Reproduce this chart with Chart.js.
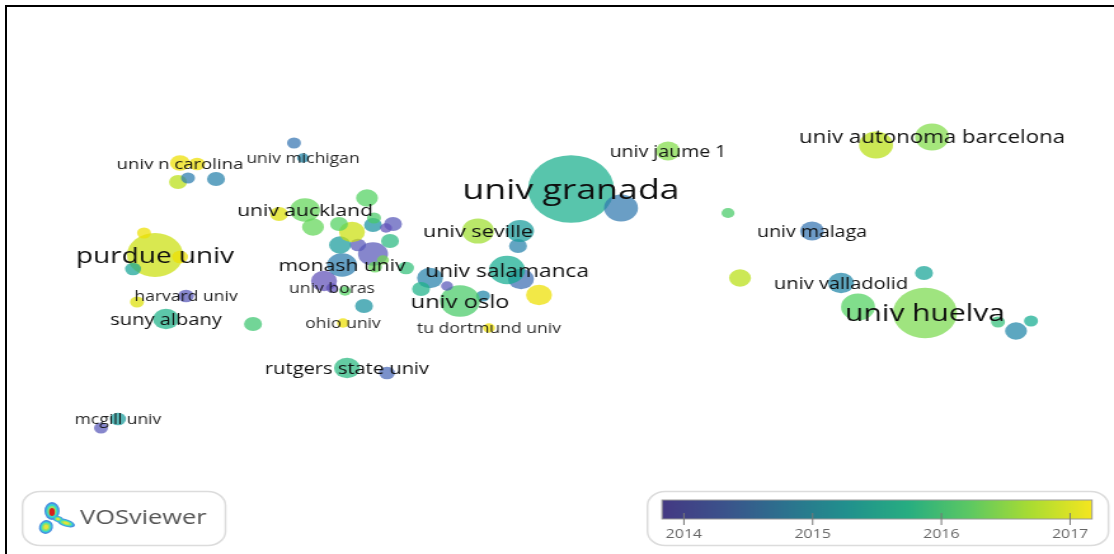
<!DOCTYPE html>
<html>
<head>
<meta charset="utf-8">
<title>VOSviewer overlay map</title>
<script src="https://cdn.jsdelivr.net/npm/chart.js"></script>
<style>
    html, body { margin: 0; padding: 0; background: #fff; }
    #wrap { position: relative; width: 1114px; height: 554px; overflow: hidden; }
    /* the picture is a map stretched sideways, so the canvas is stretched the same way */
    #map { display: block; transform-origin: 0 0; transform: scaleX(1.27024); filter: blur(0.5px); }
    #frame { position: absolute; left: 5px; top: 5px; width: 1114px; height: 560px; border-left: 2px solid #000; border-top: 2px solid #000; }
</style>
</head>
<body>
<div id="wrap">
    <canvas id="map" width="877" height="554"></canvas>
    <div id="frame"></div>
</div>
<script>
// Values
const names = [
    'univ granada', '', '', '', 'univ malaga', '', 'univ autonoma barcelona', '', 'univ valladolid', '', '', 'univ huelva', '', '',
    'univ seville', '', '', '', 'univ salamanca', '', '', 'univ oslo', '', '', '', 'tu dortmund univ', '', '', 'ohio univ',
    'rutgers state univ', '', '', 'univ boras', '', 'monash univ', '', '', '', '', '', '', 'univ auckland', '', '', '', '', '', '', '', '', '',
    'purdue univ', '', '', '', 'harvard univ', '', 'suny albany', '', 'univ n carolina', '', '', '', '', '', 'univ michigan', 'mcgill univ', '', 'univ jaume 1'
];
const mapX = [
    571, 621, 728, 740, 812, 876, 932, 924, 841, 858, 998, 925, 1016, 1031,
    478, 518, 520, 521, 507, 539, 483, 460, 447, 430, 421, 489, 406, 364, 343,
    347, 387, 345, 332, 324, 342, 373, 358, 340, 352, 339, 313, 305, 279, 367, 373, 374, 393, 386, 390, 383, 375,
    155, 144, 133, 180, 186, 137, 166, 253, 180, 197, 178, 188, 216, 294, 303, 118, 101, 668
];
const mapY = [
    189, 208, 213, 278, 231, 145, 137, 273, 283, 307, 322, 313, 331, 321,
    231, 246, 231, 279, 270, 295, 296, 301, 286, 278, 289, 328, 268, 306, 323,
    368, 373, 291, 288, 281, 265, 254, 245, 245, 232, 224, 227, 210, 214, 198, 225, 218, 224, 228, 241, 260, 267,
    255, 233, 269, 257, 296, 302, 319, 324, 163, 164, 182, 178, 179, 143, 158, 419, 428, 151
];
const weights = [
    1850, 289, 42, 121, 144, 289, 289, 81, 169, 289, 49, 1024, 121, 49,
    256, 81, 196, 169, 324, 169, 49, 400, 36, 169, 81, 36, 64, 81, 36,
    169, 64, 36, 36, 169, 225, 225, 64, 121, 169, 81, 121, 225, 81, 121, 81, 49, 81, 36, 81, 36, 49,
    784, 49, 64, 64, 64, 49, 169, 81, 100, 64, 81, 49, 81, 49, 36, 64, 49, 144
];
const years = [
    2015.45, 2014.6, 2015.9, 2016.7, 2014.5, 2016.7, 2016.3, 2015.3, 2014.9, 2016.0, 2015.7, 2016.25, 2014.9, 2015.4,
    2016.5, 2014.8, 2015.2, 2014.4, 2015.4, 2017.0, 2014.9, 2015.9, 2014.1, 2014.8, 2015.5, 2017.0, 2015.7, 2015.1, 2017.0,
    2015.6, 2014.3, 2016.0, 2014.0, 2014.0, 2014.7, 2014.1, 2014.1, 2015.2, 2016.8, 2016.0, 2016.1, 2016.1, 2016.9, 2016.0, 2015.1, 2015.9, 2014.1, 2014.0, 2015.6, 2016.2, 2016.1,
    2016.8, 2017.0, 2015.3, 2017.0, 2014.1, 2016.9, 2015.5, 2015.8, 2017.0, 2017.0, 2016.7, 2014.7, 2014.8, 2014.5, 2014.9, 2015.2, 2014.1, 2016.3
];
const tickYears = [2014, 2015, 2016, 2017];

const stretch = 1114 / 877;

// Colour bar stops, from 2013.83 to 2017.17
const yearMin = 2013.83;
const yearMax = 2017.17;
const viridis = [
    [68, 57, 131], [59, 82, 139], [44, 114, 142], [33, 144, 141],
    [39, 173, 129], [92, 200, 99], [170, 220, 50], [245, 230, 31]
];

// Bubbles look a bit more saturated than the bar
const bubbleYears = [2014, 2014.5, 2015, 2015.4, 2016, 2016.3, 2016.7, 2017];
const bubbleStops = [
    [95, 81, 185], [53, 116, 178], [26, 137, 165], [19, 172, 144],
    [81, 209, 95], [130, 220, 74], [185, 223, 19], [237, 223, 0]
];

function yearColor(year, alpha) {
    let i = 0;
    while (i < bubbleYears.length - 2 && year > bubbleYears[i + 1]) i++;
    const t = Math.min(1, Math.max(0, (year - bubbleYears[i]) / (bubbleYears[i + 1] - bubbleYears[i])));
    const c = bubbleStops[i].map((v, k) => Math.round(v + (bubbleStops[i + 1][k] - v) * t));
    return `rgba(${c[0]}, ${c[1]}, ${c[2]}, ${alpha})`;
}

const points = mapX.map((x, i) => ({ x: x, y: mapY[i], r: Math.sqrt(weights[i]) / stretch }));

// Labels sit on the centre of their bubble
const labelPlugin = {
    id: 'labels',
    afterDatasetsDraw(chart) {
        const ctx = chart.ctx;
        ctx.save();
        ctx.textAlign = 'center';
        ctx.textBaseline = 'middle';
        names.forEach((name, i) => {
            if (!name) return;
            const r = points[i].r;
            const size = Math.max(13.8, 10.5 + 0.52 * r);
            ctx.font = size.toFixed(1) + 'px "Open Sans"';
            ctx.fillStyle = 'rgba(15, 15, 15, ' + Math.min(1, 0.8 + r / 50) + ')';
            ctx.fillText(name, chart.scales.x.getPixelForValue(mapX[i]), chart.scales.y.getPixelForValue(mapY[i]) + 1.5);
        });
        ctx.restore();
    }
};

function roundedBox(ctx, x, y, w, h) {
    ctx.beginPath();
    ctx.roundRect(x, y, w, h, 14);
    ctx.fillStyle = '#fff';
    ctx.fill();
    ctx.strokeStyle = '#dcdcdc';
    ctx.lineWidth = 1.5;
    ctx.stroke();
}

function blob(ctx, x, y, rx, ry, angle, color) {
    ctx.beginPath();
    ctx.ellipse(x, y, rx, ry, angle, 0, Math.PI * 2);
    ctx.fillStyle = color;
    ctx.fill();
}

// VOSviewer logo box and colour bar
const legendPlugin = {
    id: 'legendBoxes',
    afterDraw(chart) {
        const ctx = chart.ctx;
        const px = v => chart.scales.x.getPixelForValue(v);
        ctx.save();

        roundedBox(ctx, px(22.5), 491.5, px(203), 54);
        const layers = ['#4a8fe0', '#35d6d0', '#8fe36a', '#e6e23a'];
        layers.forEach((color, k) => {
            const s = 1 - k * 0.22;
            blob(ctx, px(52), 511, 6 * s, 9 * s, 0, color);
            blob(ctx, px(46), 527, 5.5 * s, 7 * s, 0.2, color);
            blob(ctx, px(66), 523, 7.5 * s, 3.6 * s, 0.4, color);
            blob(ctx, px(58), 519, 4 * s, 3 * s, 0.4, color);
        });
        blob(ctx, px(52), 512, 2.2, 4, 0, '#d81e1e');
        ctx.fillStyle = '#555';
        ctx.font = '20px "Open Sans"';
        ctx.textAlign = 'left';
        ctx.textBaseline = 'middle';
        ctx.fillText('VOSviewer', px(80), 518);

        roundedBox(ctx, px(647.5), 491.5, px(461), 54);
        const barLeft = px(662), barRight = px(1092), barTop = 500, barBottom = 519;
        const gradient = ctx.createLinearGradient(barLeft, 0, barRight, 0);
        viridis.forEach((c, i) => gradient.addColorStop(i / (viridis.length - 1), `rgb(${c[0]}, ${c[1]}, ${c[2]})`));
        ctx.fillStyle = gradient;
        ctx.fillRect(barLeft, barTop, barRight - barLeft, barBottom - barTop);
        ctx.strokeStyle = '#999';
        ctx.lineWidth = 1;
        ctx.strokeRect(barLeft, barTop, barRight - barLeft, barBottom - barTop);

        ctx.font = '12.5px "Open Sans"';
        ctx.textAlign = 'center';
        ctx.fillStyle = '#666';
        tickYears.forEach(year => {
            const x = barLeft + (year - yearMin) / (yearMax - yearMin) * (barRight - barLeft);
            ctx.strokeStyle = '#777';
            ctx.beginPath();
            ctx.moveTo(x, 513);
            ctx.lineTo(x, 525);
            ctx.stroke();
            ctx.fillText(String(year), x, 534);
        });
        ctx.restore();
    }
};

new Chart(document.getElementById('map').getContext('2d'), {
    type: 'bubble',
    data: {
        datasets: [{
            data: points,
            backgroundColor: ctx => yearColor(years[ctx.dataIndex], 0.72),
            borderWidth: 0,
            hoverBorderWidth: 0
        }]
    },
    options: {
        responsive: false,
        animation: false,
        events: [],
        layout: { padding: 0, autoPadding: false },
        plugins: { legend: { display: false }, tooltip: { enabled: false } },
        scales: {
            x: { type: 'linear', min: 0, max: 1114, display: false },
            y: { type: 'linear', min: 0, max: 554, reverse: true, display: false }
        }
    },
    plugins: [labelPlugin, legendPlugin]
});
</script>
</body>
</html>
